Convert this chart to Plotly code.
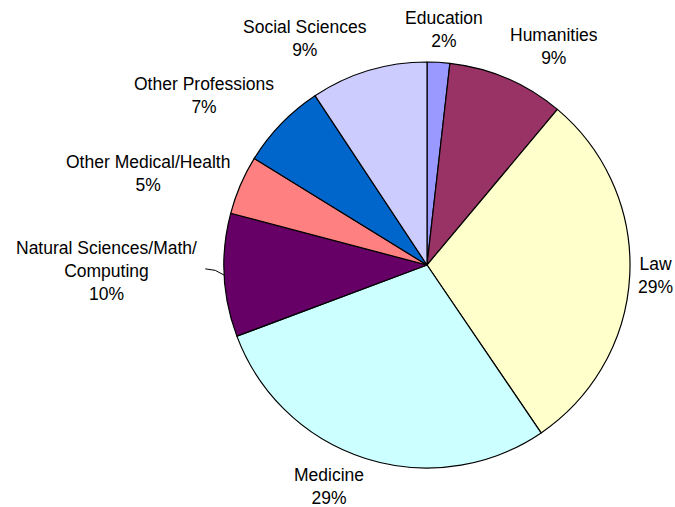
import math
import plotly.graph_objects as go

# ---- data ----
categories = [
    "Education",
    "Humanities",
    "Law",
    "Medicine",
    "Natural Sciences/Math/<br>Computing",
    "Other Medical/Health",
    "Other Professions",
    "Social Sciences",
]
shares = [1.8, 9.3, 29.4, 28.8, 9.8, 4.7, 6.9, 9.3]
slice_colors = ["#9999FF", "#993366", "#FFFFCC", "#CCFFFF",
                "#660066", "#FF8080", "#0066CC", "#CCCCFF"]

# ---- layout constants (pixels) ----
W, H = 675, 507
CX, CY, R = 427, 265, 203
GAP = 13
FONT = dict(family="Liberation Sans, Arial, sans-serif", size=17.5, color="#000000")
# label nudges in pixels (dx, dy) for labels moved away from default spot
nudges = {0: (5, 0), 2: (-3, 0), 3: (0, -3), 4: (-16, -5), 5: (0, -6)}

fig = go.Figure(go.Pie(
    labels=categories,
    values=shares,
    sort=False,
    direction="clockwise",
    rotation=0,
    marker=dict(colors=slice_colors, line=dict(color="#000000", width=1.2)),
    textinfo="none",
    hoverinfo="label+percent",
    showlegend=False,
    domain=dict(x=[(CX - R) / W, (CX + R) / W],
                y=[1 - (CY + R) / H, 1 - (CY - R) / H]),
))

total = sum(shares)
cum = 0.0
annotations = []
shapes = []
for i, (name, v) in enumerate(zip(categories, shares)):
    mid = (cum + v / 2) / total * 2 * math.pi
    cum += v
    s, c = math.sin(mid), math.cos(mid)
    px = CX + (R + GAP) * s
    py = CY - (R + GAP) * c
    if abs(s) < 0.2:
        xanchor, xs = "center", 0
    elif s > 0:
        xanchor, xs = "left", -4
    else:
        xanchor, xs = "right", 4
    if abs(c) < 0.45:
        yanchor, ys = "middle", 0
    elif c > 0:
        yanchor, ys = "bottom", 4
    else:
        yanchor, ys = "top", -5
    dx, dy = nudges.get(i, (0, 0))
    lx, ly = px + dx + xs, py + dy + ys
    pct = round(v / total * 100)
    annotations.append(dict(
        x=lx / W, y=1 - ly / H, xref="paper", yref="paper",
        text=f"{name}<br>{pct}%", showarrow=False,
        xanchor=xanchor, yanchor=yanchor, align="center", font=FONT,
    ))
    if i == 4:
        # leader line from slice edge to moved label
        sx, sy = CX + R * s, CY - R * c
        ex, ey = lx + 6, ly - 2
        mx, my = sx - 9, ey + 1.5
        path = (f"M {sx / W} {1 - sy / H} L {mx / W} {1 - my / H} "
                f"L {ex / W} {1 - ey / H}")
        shapes.append(dict(type="path", xref="paper", yref="paper", path=path,
                           line=dict(color="#000000", width=1)))

fig.update_layout(
    width=W, height=H,
    margin=dict(l=0, r=0, t=0, b=0),
    paper_bgcolor="#FFFFFF",
    plot_bgcolor="#FFFFFF",
    annotations=annotations,
    shapes=shapes,
)

fig.write_html("out.html",
               config={"displayModeBar": False},
               post_script="document.body.style.margin='0px';"
                           "document.body.style.overflow='hidden';")
